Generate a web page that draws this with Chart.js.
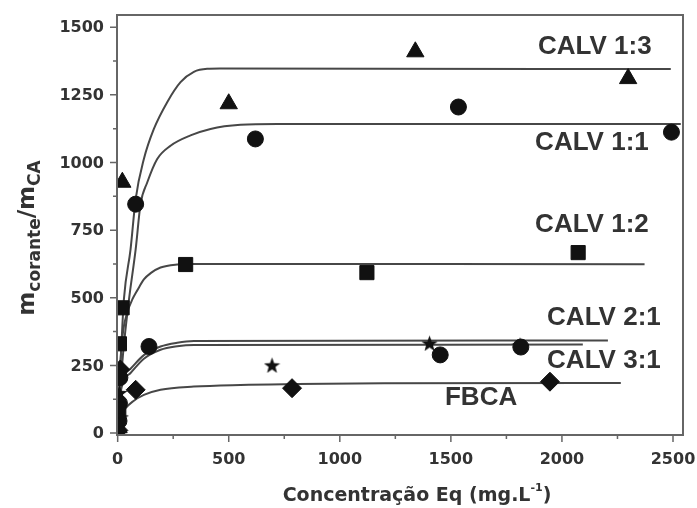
<!DOCTYPE html>
<html>
<head>
<meta charset="utf-8">
<script src="https://cdn.jsdelivr.net/npm/chart.js@4.4.1/dist/chart.umd.min.js"></script>
<style>
  html, body { margin:0; padding:0; background:#fff; }
  #wrap { width:697px; height:508px; }
</style>
</head>
<body>
<div id="wrap"><canvas id="c" width="697" height="508"></canvas></div>
<script>
// measured points (x = Concentração Eq, y = m corante / m CA)
const tri13X = [4, 21, 500, 1340, 2298];
const tri13Y = [20, 927, 1217, 1409, 1310];
const circ11X = [6, 81, 620, 1534, 2493];
const circ11Y = [45, 846, 1087, 1205, 1112];
const sq12X = [5, 8, 20, 306, 1122, 2073];
const sq12Y = [90, 330, 463, 623, 593, 667];
const star21X = [8, 14, 695, 1404, 1811];
const star21Y = [150, 60, 252, 333, 326];
const circ31X = [10, 8, 141, 1452, 1815];
const circ31Y = [205, 110, 320, 289, 318];
const diaX = [3, 12, 81, 785, 1946];
const diaY = [10, 235, 160, 166, 190];

// fitted curves
const fit13X = [0, 8, 16, 28, 58, 81, 118, 163, 223, 283, 343, 403, 460, 2490];
const fit13Y = [0, 170, 310, 494, 679, 865, 1013, 1124, 1223, 1297, 1335, 1346, 1347, 1345];
const fit11X = [0, 10, 25, 51, 81, 103, 133, 178, 238, 328, 418, 553, 720, 2535];
const fit11Y = [0, 140, 300, 494, 679, 846, 926, 1013, 1062, 1100, 1124, 1139, 1142, 1142];
const fit12X = [0, 5, 12, 25, 45, 66, 90, 118, 150, 193, 268, 340, 2372];
const fit12Y = [0, 140, 260, 380, 450, 494, 530, 568, 592, 612, 623, 625, 624];
const fit21X = [0, 5, 12, 28, 58, 118, 193, 268, 343, 2207];
const fit21Y = [0, 100, 160, 212, 238, 288, 320, 334, 340, 342];
const fit31X = [0, 5, 12, 28, 58, 118, 193, 268, 343, 2094];
const fit31Y = [0, 90, 145, 195, 222, 275, 308, 321, 326, 327];
const fitFbX = [0, 8, 20, 36, 70, 118, 193, 343, 553, 800, 1200, 2265];
const fitFbY = [0, 40, 70, 92, 118, 141, 160, 172, 178, 181, 184, 185];

const labelTexts = ['CALV 1:3', 'CALV 1:1', 'CALV 1:2', 'CALV 2:1', 'CALV 3:1', 'FBCA'];
const labelX = [2148, 2135, 2135, 2189, 2189, 1636];
const labelY = [1428, 1072, 768, 427, 267, 130];

const xTicks = [0, 500, 1000, 1500, 2000, 2500];
const yTicks = [0, 250, 500, 750, 1000, 1250, 1500];

const pts = (xs, ys) => xs.map((x, i) => ({x, y: ys[i]}));
const INK = '#111';
const LINE = '#474747';
const TXT = '#333';

function starImage(size) {
  const c = document.createElement('canvas');
  c.width = c.height = size;
  const g = c.getContext('2d');
  g.fillStyle = INK;
  g.beginPath();
  for (let i = 0; i < 10; i++) {
    const r = i % 2 ? size * 0.21 : size * 0.5;
    const a = -Math.PI / 2 + i * Math.PI / 5;
    g.lineTo(size / 2 + r * Math.cos(a), size / 2 + r * Math.sin(a) + size * 0.06);
  }
  g.closePath();
  g.fill();
  return c;
}

function curve(xs, ys) {
  return {
    data: pts(xs, ys), showLine: true, pointRadius: 0, borderColor: LINE,
    borderWidth: 2, cubicInterpolationMode: 'monotone', order: 2
  };
}
function marks(xs, ys, style, r) {
  return {
    data: pts(xs, ys), showLine: false, pointStyle: style, pointRadius: r,
    backgroundColor: INK, borderColor: INK, borderWidth: 1, order: 1
  };
}

// frame, tick marks + labels, axis titles, curve labels
const decor = {
  id: 'decor',
  afterDraw(chart) {
    const {ctx, chartArea: a, scales: {x, y}} = chart;
    ctx.save();
    ctx.strokeStyle = '#666';
    ctx.lineWidth = 2;
    ctx.strokeRect(a.left, a.top, a.right - a.left, a.bottom - a.top);
    ctx.lineWidth = 1.5;
    ctx.beginPath();
    for (let v = 0; v <= 2500; v += 250) {
      const px = x.getPixelForValue(v), len = v % 500 === 0 ? 7 : 4;
      ctx.moveTo(px, a.bottom); ctx.lineTo(px, a.bottom + len);
    }
    for (let v = 0; v <= 1500; v += 125) {
      const py = y.getPixelForValue(v), len = v % 250 === 0 ? 7 : 4;
      ctx.moveTo(a.left, py); ctx.lineTo(a.left - len, py);
    }
    ctx.stroke();

    ctx.fillStyle = TXT;
    ctx.font = 'bold 16px "DejaVu Sans", sans-serif';
    ctx.textBaseline = 'middle';
    ctx.textAlign = 'right';
    yTicks.forEach(v => ctx.fillText(String(v), a.left - 13, y.getPixelForValue(v) + 1));
    ctx.textAlign = 'center';
    xTicks.forEach(v => ctx.fillText(String(v), x.getPixelForValue(v), a.bottom + 25));

    ctx.font = 'bold 26px "Liberation Sans", Arial, sans-serif';
    labelTexts.forEach((t, i) => {
      ctx.fillText(t, x.getPixelForValue(labelX[i]), y.getPixelForValue(labelY[i]));
    });

    // x title with superscript
    ctx.textAlign = 'left';
    ctx.textBaseline = 'alphabetic';
    const main = 'bold 19px "DejaVu Sans", sans-serif';
    const small = 'bold 11px "DejaVu Sans", sans-serif';
    const p1 = 'Concentração Eq (mg.L', sup = '-1', p2 = ')';
    ctx.font = main; const w1 = ctx.measureText(p1).width, w3 = ctx.measureText(p2).width;
    ctx.font = small; const w2 = ctx.measureText(sup).width;
    let sx = 417 - (w1 + w2 + w3) / 2;
    const by = 501;
    ctx.font = main; ctx.fillText(p1, sx, by); sx += w1;
    ctx.font = small; ctx.fillText(sup, sx, by - 10); sx += w2;
    ctx.font = main; ctx.fillText(p2, sx, by);

    // y title, rotated, with subscripts
    ctx.translate(34, 238);
    ctx.rotate(-Math.PI / 2);
    const big = 'bold 23px "DejaVu Sans", sans-serif';
    const sub = 'bold 17px "DejaVu Sans", sans-serif';
    const parts = [['m', big, 0], ['corante', sub, 6], ['/m', big, 0], ['CA', sub, 6]];
    let total = 0;
    parts.forEach(p => { ctx.font = p[1]; p.push(ctx.measureText(p[0]).width); total += p[3]; });
    let tx = -total / 2;
    parts.forEach(p => { ctx.font = p[1]; ctx.fillText(p[0], tx, p[2]); tx += p[3]; });
    ctx.restore();
  }
};

new Chart(document.getElementById('c'), {
  type: 'scatter',
  data: {
    datasets: [
      curve(fit13X, fit13Y), curve(fit11X, fit11Y), curve(fit12X, fit12Y),
      curve(fit21X, fit21Y), curve(fit31X, fit31Y), curve(fitFbX, fitFbY),
      marks(tri13X, tri13Y, 'triangle', 10),
      marks(circ11X, circ11Y, 'circle', 8),
      marks(sq12X, sq12Y, 'rect', 10),
      marks(circ31X, circ31Y, 'circle', 8),
      marks(star21X, star21Y, starImage(17), 9),
      marks(diaX, diaY, 'rectRot', 9.5)
    ]
  },
  options: {
    responsive: false,
    animation: false,
    layout: {padding: {left: 0, top: 15, right: 14, bottom: 0}},
    plugins: {legend: {display: false}, tooltip: {enabled: false}},
    scales: {
      x: {
        min: -3, max: 2545,
        afterFit: s => { s.height = 73; },
        grid: {display: false, drawTicks: false},
        border: {display: false},
        ticks: {display: false}
      },
      y: {
        min: -7, max: 1545,
        afterFit: s => { s.width = 117; },
        grid: {display: false, drawTicks: false},
        border: {display: false},
        ticks: {display: false}
      }
    }
  },
  plugins: [decor]
});
</script>
</body>
</html>
